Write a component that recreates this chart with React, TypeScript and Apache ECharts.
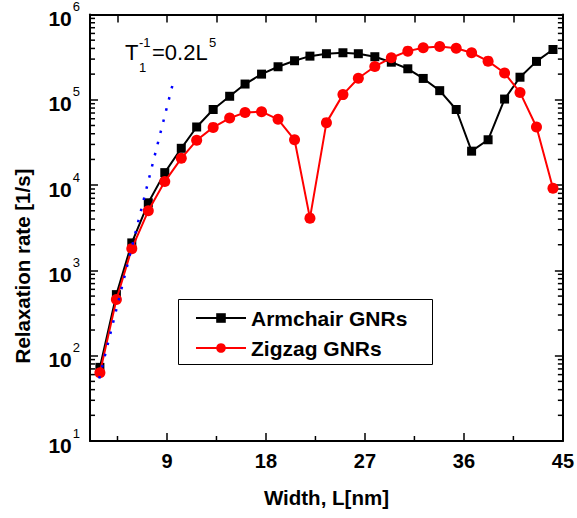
import { useEffect, useRef } from 'react';
import * as echarts from 'echarts';

// ---- data ----
const widthNm = [2.9, 4.4, 5.8, 7.3, 8.8, 10.3, 11.7, 13.2, 14.7, 16.1, 17.6, 19.1, 20.6, 22.0, 23.5, 25.0, 26.4, 27.9, 29.4, 30.9, 32.3, 33.8, 35.3, 36.7, 38.2, 39.7, 41.1, 42.6, 44.1];
const armchairRate = [73, 520, 2100, 6200, 14000, 27000, 48000, 77000, 110000, 153000, 200000, 244000, 287000, 325000, 347000, 356000, 347000, 320000, 276000, 231000, 178000, 128000, 77000, 25000, 34000, 102000, 184000, 282000, 389000];
const zigzagRate = [63, 456, 1800, 5000, 11000, 20600, 33500, 47500, 61000, 71000, 72600, 59000, 34000, 4100, 54000, 115000, 179000, 246000, 311000, 372000, 407000, 422000, 403000, 356000, 284000, 206000, 122000, 48000, 9200];
const fitWidthNm = [2.84, 5.6, 7.85, 9.65];
const fitRate = [54, 1470, 21300, 177000];

const xMajorTicks = [9, 18, 27, 36, 45];
const xMinorTicks = [4.5, 13.5, 22.5, 31.5, 40.5];
const xTopTicks = [4.5, 9, 13.5, 18, 22.5, 27, 31.5, 36, 40.5];
const yDecades = [10, 100, 1000, 10000, 100000];
const yMinorMultipliers = [2, 3, 4, 5, 6, 7, 8, 9];
const yMinorTicks = yDecades.flatMap((d) => yMinorMultipliers.map((m) => m * d));

const FONT = '"Liberation Sans", Arial, Helvetica, sans-serif';

const zip = (xs: number[], ys: number[]) => xs.map((x, i) => [x, ys[i]]);

export default function App() {
  const ref = useRef<HTMLDivElement>(null);

  useEffect(() => {
    const chart = echarts.init(ref.current!, null, { renderer: 'svg' });
    const axisLine = { show: true, lineStyle: { color: '#000', width: 2 } };
    const tickStyle = { color: '#000', width: 1.5 };

    chart.setOption({
      animation: false,
      textStyle: { fontFamily: FONT },
      grid: { left: 90, top: 14, right: 11, bottom: 77 },
      xAxis: [
        {
          type: 'value', min: 2, max: 45, position: 'bottom',
          axisLine,
          axisTick: { show: true, inside: true, length: 8, customValues: xMajorTicks, lineStyle: tickStyle },
          axisLabel: { customValues: xMajorTicks, margin: 10, color: '#000', fontSize: 20, fontWeight: 'bold', fontFamily: FONT },
          splitLine: { show: false },
          name: 'Width, L[nm]', nameLocation: 'middle', nameGap: 46,
          nameTextStyle: { color: '#000', fontSize: 20.5, fontWeight: 'bold', fontFamily: FONT },
        },
        {
          type: 'value', min: 2, max: 45, position: 'top',
          axisLine,
          axisTick: { show: true, inside: true, length: 8, customValues: xTopTicks, lineStyle: tickStyle },
          axisLabel: { show: false },
          splitLine: { show: false },
        },
      ],
      yAxis: [
        {
          type: 'log', logBase: 10, min: 10, max: 1000000, position: 'left',
          axisLine,
          axisTick: { show: true, inside: true, length: 8, lineStyle: tickStyle },
          axisLabel: {
            margin: 10,
            formatter: (v: number) => `{b|10}{s|${Math.round(Math.log10(v))}}`,
            rich: {
              b: { fontSize: 21, fontWeight: 'bold', color: '#000', fontFamily: FONT, verticalAlign: 'bottom', padding: [8, 0, 0, 0] },
              s: { fontSize: 13, color: '#000', fontFamily: FONT, verticalAlign: 'top', padding: [0, 0, 0, 1] },
            },
          },
          splitLine: { show: false },
        },
        {
          type: 'log', logBase: 10, min: 10, max: 1000000, position: 'right',
          axisLine,
          axisTick: { show: true, inside: true, length: 8, lineStyle: tickStyle },
          axisLabel: { show: false },
          splitLine: { show: false },
        },
      ],
      legend: {
        data: ['Armchair GNRs', 'Zigzag GNRs'],
        orient: 'vertical', left: 195, top: 307,
        itemWidth: 50, itemHeight: 12, itemGap: 8,
        padding: 0,
        textStyle: { fontSize: 21, fontWeight: 'bold', color: '#000', fontFamily: FONT, lineHeight: 22 },
      },
      graphic: [
        {
          type: 'rect', shape: { x: 178.5, y: 299.5, width: 254, height: 65 },
          style: { fill: '#fff', stroke: '#000', lineWidth: 1 }, z: 3,
        },
        {
          type: 'text', x: 22, y: 266, rotation: Math.PI / 2,
          style: { text: 'Relaxation rate [1/s]', fill: '#000', font: `bold 20.5px ${FONT}`, align: 'center', verticalAlign: 'middle' },
        },
        { type: 'text', x: 125, y: 52, style: { text: 'T', fill: '#000', font: `22px ${FONT}`, align: 'left', verticalAlign: 'middle' } },
        { type: 'text', x: 139, y: 67, style: { text: '1', fill: '#000', font: `13px ${FONT}`, align: 'left', verticalAlign: 'middle' } },
        { type: 'text', x: 139, y: 42, style: { text: '-1', fill: '#000', font: `13px ${FONT}`, align: 'left', verticalAlign: 'middle' } },
        { type: 'text', x: 152, y: 52, style: { text: '=0.2L', fill: '#000', font: `22px ${FONT}`, align: 'left', verticalAlign: 'middle' } },
        { type: 'text', x: 209, y: 42, style: { text: '5', fill: '#000', font: `13px ${FONT}`, align: 'left', verticalAlign: 'middle' } },
      ],
      series: [
        {
          type: 'custom', silent: true, z: 1,
          data: yMinorTicks.map((v) => [2, v]),
          renderItem: (params: any, api: any) => {
            const cs = params.coordSys;
            const y = api.coord([2, api.value(1)])[1];
            return {
              type: 'group',
              children: [
                { type: 'line', shape: { x1: cs.x, y1: y, x2: cs.x + 5, y2: y }, style: { stroke: '#000', lineWidth: 1.5 } },
                { type: 'line', shape: { x1: cs.x + cs.width - 5, y1: y, x2: cs.x + cs.width, y2: y }, style: { stroke: '#000', lineWidth: 1.5 } },
              ],
            };
          },
        },
        {
          type: 'custom', silent: true, z: 1,
          data: xMinorTicks.map((v) => [v, 10]),
          renderItem: (params: any, api: any) => {
            const cs = params.coordSys;
            const x = api.coord([api.value(0), 10])[0];
            const yb = cs.y + cs.height;
            return { type: 'line', shape: { x1: x, y1: yb, x2: x, y2: yb - 5 }, style: { stroke: '#000', lineWidth: 1.5 } };
          },
        },
        {
          name: 'Armchair GNRs', type: 'line', data: zip(widthNm, armchairRate),
          symbol: 'rect', symbolSize: 9, showAllSymbol: true,
          lineStyle: { color: '#000', width: 2 }, itemStyle: { color: '#000' }, z: 3,
        },
        {
          name: 'Zigzag GNRs', type: 'line', data: zip(widthNm, zigzagRate),
          symbol: 'circle', symbolSize: 11, showAllSymbol: true,
          lineStyle: { color: '#ff0000', width: 2 }, itemStyle: { color: '#ff0000' }, z: 4,
        },
        {
          name: 'fit', type: 'line', data: zip(fitWidthNm, fitRate), symbol: 'none', silent: true,
          lineStyle: { color: '#0000ff', width: 2.5, type: [2.5, 9] }, z: 5,
        },
      ],
    });
    return () => chart.dispose();
  }, []);

  return <div ref={ref} style={{ position: 'absolute', left: 0, top: 0, width: 577, height: 518 }} />;
}
